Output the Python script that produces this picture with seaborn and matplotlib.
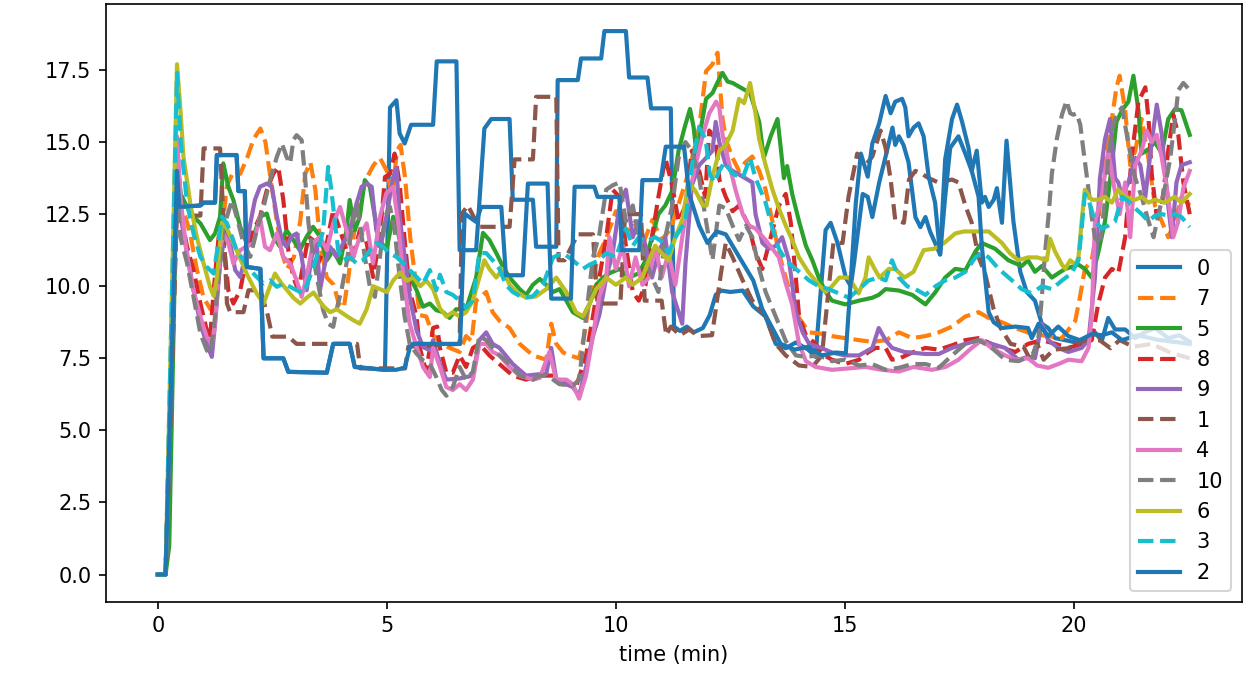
import matplotlib
matplotlib.use("Agg")
import matplotlib.pyplot as plt
import numpy as np
import pandas as pd
import seaborn as sns

# legend / drawing order of the runs
series_order = ["0", "7", "5", "8", "9", "1", "4", "10", "6", "3", "2"]

# --- run 0 (blue, solid) ---
t_0 = [0.0, 0.17, 0.42, 0.47, 0.93, 1.0, 1.25, 1.29, 1.72, 1.76,
       1.9, 1.94, 2.24, 2.31, 2.74, 2.85, 3.69, 3.83, 4.19, 4.3,
       4.96, 5.07, 5.21, 5.28, 5.39, 5.53, 6.01, 6.09, 6.52, 6.59,
       6.95, 7.13, 7.28, 7.68, 7.75, 8.19, 8.26, 8.70, 8.73, 9.17,
       9.24, 9.68, 9.75, 10.22, 10.29, 10.69, 10.77, 11.2, 11.27, 11.4,
       11.55, 11.7, 11.9, 12.05, 12.18, 12.3, 12.5, 12.77, 13.0, 13.27,
       13.49, 13.71, 13.93, 14.2, 14.36, 14.58, 14.69, 14.84, 15.02, 15.13,
       15.2, 15.39, 15.5, 15.6, 15.75, 15.89, 16.04, 16.1, 16.18, 16.28,
       16.39, 16.47, 16.54, 16.65, 16.76, 16.86, 16.97, 17.08, 17.19, 17.34,
       17.45, 17.56, 17.7, 17.77, 17.88, 17.99, 18.06, 18.14, 18.25, 18.32,
       18.43, 18.53, 18.68, 18.83, 18.97, 19.15, 19.3, 19.44, 19.59, 19.9,
       20.17, 20.46, 20.61, 20.75, 20.9, 21.12, 21.34, 21.55, 21.77, 22.06,
       22.3, 22.53]
v_0 = [0.0, 0.0, 14.0, 12.75, 12.8, 12.9, 12.9, 14.55, 14.55, 13.3,
       13.3, 10.67, 10.6, 7.5, 7.5, 7.03, 7.0, 8.0, 8.0, 7.2,
       7.1, 16.2, 16.45, 15.3, 14.95, 15.6, 15.6, 17.8, 17.8, 11.25,
       11.25, 15.47, 15.8, 15.8, 13.0, 13.0, 11.37, 11.37, 17.15, 17.15,
       17.9, 17.9, 18.85, 18.85, 17.24, 17.24, 16.17, 16.17, 8.6, 8.45,
       8.6, 8.4, 8.55, 9.0, 9.7, 9.85, 9.8, 9.85, 9.3, 8.95,
       8.0, 7.85, 8.05, 7.8, 7.55, 11.95, 12.2, 11.5, 10.3, 10.0,
       10.8, 13.2, 13.1, 12.4, 13.6, 14.5, 15.5, 14.9, 15.2, 14.9,
       14.3, 13.3, 12.4, 12.05, 12.4, 11.9, 11.5, 11.1, 14.4, 15.8,
       16.3, 15.7, 14.8, 14.0, 14.7, 12.9, 13.1, 12.75, 13.0, 13.4,
       12.2, 15.05, 12.25, 10.5, 9.8, 9.5, 8.7, 8.55, 8.2, 8.1,
       8.0, 8.4, 8.1, 8.9, 8.5, 8.5, 8.2, 8.4, 8.55, 8.2,
       8.3, 8.07]

# --- run 7 (orange, dashed) ---
t_7 = [0.0, 0.17, 0.42, 0.5, 0.71, 0.85, 1.0, 1.15, 1.25, 1.37,
       1.51, 1.66, 1.8, 1.95, 2.09, 2.24, 2.35, 2.46, 2.6, 2.71,
       2.82, 2.97, 3.11, 3.22, 3.33, 3.44, 3.55, 3.69, 3.84, 3.95,
       4.06, 4.16, 4.27, 4.42, 4.56, 4.71, 4.85, 5.0, 5.12, 5.22,
       5.3, 5.4, 5.51, 5.62, 5.72, 5.86, 6.01, 6.2, 6.37, 6.59,
       6.73, 6.85, 6.95, 7.17, 7.31, 7.46, 7.68, 7.9, 8.19, 8.48,
       8.59, 8.7, 8.85, 8.99, 9.2, 9.31, 9.5, 9.64, 9.8, 10.0,
       10.2, 10.4, 10.6, 10.8, 11.0, 11.2, 11.4, 11.6, 11.82, 11.97,
       12.11, 12.22, 12.33, 12.42, 12.55, 12.69, 12.83, 12.98, 13.13, 13.27,
       13.42, 13.56, 13.71, 13.85, 14.0, 14.22, 14.5, 14.72, 15.0, 15.31,
       15.6, 15.9, 16.18, 16.47, 16.76, 17.05, 17.34, 17.63, 17.92, 18.14,
       18.43, 18.72, 19.08, 19.44, 19.74, 20.03, 20.13, 20.24, 20.39, 20.53,
       20.68, 20.83, 20.93, 21.0, 21.12, 21.23, 21.34, 21.48, 21.63, 21.77,
       21.92, 22.06, 22.21, 22.35, 22.53]
v_7 = [0.0, 0.0, 14.5, 13.0, 11.8, 10.6, 9.6, 9.2, 9.3, 11.4,
       13.5, 14.0, 13.9, 14.45, 15.1, 15.47, 15.0, 13.75, 12.25, 11.15,
       10.6, 11.0, 12.25, 13.9, 14.3, 13.35, 11.4, 10.3, 10.05, 9.4,
       9.25, 10.3, 11.7, 13.1, 13.75, 14.2, 14.45, 14.0, 13.1, 14.7,
       14.9, 13.75, 11.7, 10.3, 9.0, 8.95, 8.3, 8.0, 7.86, 7.72,
       8.27, 8.1, 9.5, 9.8, 9.1, 8.8, 8.55, 8.0, 7.6, 7.45,
       8.7, 8.0, 7.7, 7.6, 7.5, 8.27, 10.3, 11.15, 11.7, 12.6,
       11.8, 12.2, 11.5, 12.3, 11.6, 12.0, 13.0, 14.0, 15.5, 17.46,
       17.7, 18.1, 15.8, 15.0, 14.45, 14.0, 14.3, 14.5, 14.0, 13.35,
       12.25, 11.15, 10.3, 9.5, 8.9, 8.4, 8.35, 8.27, 8.2, 8.13,
       8.07, 8.13, 8.4, 8.2, 8.27, 8.4, 8.6, 8.95, 9.1, 8.9,
       8.75, 8.55, 8.35, 8.27, 8.2, 8.8, 9.6, 10.6, 10.9, 12.25,
       14.45, 15.8, 16.9, 17.3, 16.1, 14.2, 14.7, 15.8, 14.4, 12.8,
       12.25, 11.7, 12.25, 13.1, 12.8]

# --- run 5 (green, solid) ---
t_5 = [0.0, 0.17, 0.25, 0.42, 0.5, 0.71, 0.93, 1.14, 1.25, 1.36,
       1.43, 1.54, 1.65, 1.8, 1.94, 2.09, 2.23, 2.38, 2.52, 2.67,
       2.81, 2.96, 3.1, 3.25, 3.39, 3.54, 3.69, 3.83, 3.98, 4.12,
       4.19, 4.3, 4.41, 4.52, 4.63, 4.74, 4.85, 4.99, 5.14, 5.25,
       5.36, 5.5, 5.65, 5.79, 5.94, 6.08, 6.23, 6.37, 6.51, 6.73,
       6.95, 7.1, 7.24, 7.39, 7.53, 7.68, 7.9, 8.04, 8.19, 8.34,
       8.48, 8.63, 8.77, 8.92, 9.06, 9.28, 9.43, 9.57, 9.72, 9.86,
       10.08, 10.29, 10.5, 10.65, 10.79, 10.93, 11.08, 11.23, 11.37, 11.5,
       11.62, 11.7, 11.77, 11.87, 11.97, 12.11, 12.26, 12.33, 12.44, 12.55,
       12.77, 12.93, 13.05, 13.13, 13.23, 13.38, 13.53, 13.6, 13.67, 13.74,
       13.85, 14.0, 14.15, 14.29, 14.43, 14.58, 14.72, 15.01, 15.31, 15.6,
       15.74, 15.89, 16.18, 16.47, 16.76, 16.98, 17.19, 17.41, 17.63, 17.85,
       17.99, 18.28, 18.57, 18.86, 19.0, 19.15, 19.3, 19.52, 19.66, 19.81,
       20.1, 20.24, 20.39, 20.53, 20.68, 20.83, 20.93, 21.05, 21.19, 21.3,
       21.41, 21.48, 21.63, 21.77, 21.92, 22.06, 22.21, 22.35, 22.53]
v_5 = [0.0, 0.0, 1.0, 14.4, 13.2, 12.52, 12.18, 11.6, 11.83, 12.41,
       14.26, 13.45, 12.99, 12.06, 11.5, 11.72, 12.41, 12.52, 11.72, 11.37,
       11.94, 11.6, 11.25, 11.72, 12.06, 11.72, 10.9, 11.25, 10.79, 11.94,
       12.99, 11.94, 12.41, 13.68, 13.45, 12.41, 11.6, 11.25, 12.41, 11.83,
       11.02, 10.32, 9.86, 9.29, 9.4, 9.17, 9.1, 8.9, 9.2, 9.2,
       10.3, 11.85, 11.6, 11.15, 10.7, 10.3, 9.9, 9.7, 10.05, 10.25,
       10.05, 9.8, 9.9, 9.5, 9.1, 8.9, 9.4, 10.05, 10.3, 10.45,
       10.6, 10.3, 10.45, 10.9, 11.7, 12.5, 12.8, 13.3, 14.7, 15.5,
       16.15, 15.5, 14.45, 15.6, 16.5, 16.7, 17.2, 17.4, 17.1, 17.05,
       16.85, 16.7, 16.1, 15.7, 14.45, 15.2, 15.8, 14.8, 13.75, 14.17,
       13.2, 12.25, 11.4, 10.9, 10.3, 9.8, 9.5, 9.37, 9.5, 9.6,
       9.7, 9.9, 9.85, 9.7, 9.37, 9.8, 10.3, 10.6, 10.55, 11.2,
       11.5, 11.3, 10.9, 10.7, 10.9, 10.5, 10.7, 10.3, 10.45, 10.6,
       10.75, 10.6, 10.3, 11.15, 12.25, 14.2, 15.7, 16.1, 16.4, 17.3,
       16.1, 14.6, 14.75, 15.0, 14.6, 15.8, 16.15, 16.1, 15.25]

# --- run 8 (red, dashed) ---
t_8 = [0.0, 0.17, 0.42, 0.5, 0.64, 0.78, 0.93, 1.07, 1.14, 1.22,
       1.33, 1.4, 1.47, 1.54, 1.65, 1.8, 1.94, 2.09, 2.23, 2.38,
       2.52, 2.63, 2.74, 2.85, 2.96, 3.07, 3.18, 3.29, 3.39, 3.5,
       3.69, 3.83, 3.98, 4.12, 4.27, 4.41, 4.56, 4.7, 4.85, 4.96,
       5.07, 5.17, 5.28, 5.39, 5.5, 5.65, 5.72, 5.86, 6.01, 6.1,
       6.16, 6.3, 6.44, 6.59, 6.73, 6.88, 7.02, 7.24, 7.46, 7.75,
       8.04, 8.34, 8.63, 8.92, 9.13, 9.35, 9.5, 9.64, 9.79, 9.93,
       10.08, 10.22, 10.37, 10.5, 10.65, 10.79, 10.93, 11.08, 11.23, 11.37,
       11.52, 11.66, 11.82, 11.95, 12.04, 12.18, 12.26, 12.4, 12.55, 12.69,
       12.9, 13.05, 13.2, 13.35, 13.56, 13.71, 13.82, 13.93, 14.0, 14.15,
       14.36, 14.55, 14.72, 15.0, 15.31, 15.5, 15.67, 15.89, 16.03, 16.2,
       16.47, 16.76, 17.05, 17.34, 17.63, 17.92, 18.2, 18.43, 18.72, 19.0,
       19.3, 19.6, 19.88, 20.17, 20.39, 20.53, 20.68, 20.83, 20.97, 21.12,
       21.26, 21.41, 21.56, 21.63, 21.7, 21.81, 21.92, 22.06, 22.17, 22.28,
       22.39, 22.53]
v_8 = [0.0, 0.0, 13.0, 12.5, 11.37, 10.56, 9.4, 8.47, 8.13, 9.86,
       11.72, 11.94, 11.02, 9.86, 9.4, 9.86, 11.02, 11.94, 12.4, 13.33,
       13.9, 14.14, 13.0, 11.25, 10.3, 9.86, 10.79, 11.72, 11.6, 10.79,
       11.5, 12.64, 11.94, 11.25, 11.02, 11.94, 11.5, 10.32, 11.72, 13.79,
       13.9, 14.6, 13.56, 11.6, 9.86, 8.94, 7.86, 7.04, 8.55, 8.6,
       7.86, 7.0, 7.0, 7.6, 7.2, 7.86, 8.0, 7.6, 7.3, 6.9,
       6.76, 6.9, 6.9, 6.6, 6.5, 7.6, 8.95, 10.3, 11.7, 13.35,
       13.1, 11.4, 9.8, 9.5, 10.05, 11.7, 13.1, 14.45, 13.5, 12.25,
       12.8, 14.7, 14.0, 13.1, 15.4, 15.1, 13.7, 13.1, 12.6, 12.8,
       12.1, 11.15, 10.6, 11.5, 12.8, 13.2, 12.2, 10.3, 8.95, 8.3,
       8.0, 7.6, 7.45, 7.3, 7.45, 7.7, 7.86, 7.86, 7.45, 7.5,
       7.7, 7.86, 7.8, 7.95, 8.13, 8.2, 8.0, 7.86, 7.72, 8.0,
       8.13, 8.0, 7.86, 8.0, 8.13, 9.37, 10.3, 10.6, 10.45, 11.7,
       14.45, 16.4, 16.9, 15.8, 13.9, 12.4, 12.8, 14.7, 15.95, 15.25,
       13.6, 12.5]

# --- run 9 (purple, solid) ---
t_9 = [0.0, 0.17, 0.42, 0.49, 0.64, 0.78, 0.93, 1.07, 1.18, 1.25,
       1.36, 1.47, 1.58, 1.69, 1.8, 1.91, 2.02, 2.12, 2.23, 2.38,
       2.49, 2.6, 2.71, 2.81, 2.92, 3.03, 3.14, 3.25, 3.36, 3.47,
       3.54, 3.65, 3.76, 3.9, 4.05, 4.19, 4.34, 4.45, 4.56, 4.67,
       4.77, 4.88, 4.99, 5.14, 5.21, 5.28, 5.39, 5.5, 5.65, 5.79,
       5.94, 6.01, 6.16, 6.3, 6.59, 6.88, 7.02, 7.17, 7.31, 7.46,
       7.75, 8.04, 8.34, 8.48, 8.59, 8.7, 8.92, 9.06, 9.2, 9.35,
       9.5, 9.64, 9.79, 9.93, 10.08, 10.22, 10.37, 10.5, 10.65, 10.79,
       10.93, 11.08, 11.23, 11.37, 11.45, 11.52, 11.66, 11.82, 11.97, 12.11,
       12.18, 12.26, 12.4, 12.55, 12.77, 12.98, 13.05, 13.2, 13.34, 13.49,
       13.63, 13.78, 13.93, 14.08, 14.22, 14.5, 14.72, 15.0, 15.31, 15.6,
       15.74, 15.89, 16.03, 16.3, 16.76, 17.05, 17.34, 17.63, 17.92, 18.2,
       18.5, 18.79, 19.0, 19.15, 19.3, 19.44, 19.66, 19.88, 20.17, 20.32,
       20.46, 20.57, 20.68, 20.79, 20.9, 20.97, 21.05, 21.19, 21.34, 21.45,
       21.56, 21.7, 21.81, 21.92, 22.06, 22.14, 22.24, 22.35, 22.53]
v_9 = [0.0, 0.0, 14.2, 12.5, 11.14, 9.86, 8.7, 8.0, 7.55, 8.7,
       10.79, 11.83, 11.5, 10.56, 10.32, 11.02, 12.18, 12.99, 13.45, 13.56,
       13.45, 12.41, 11.6, 11.37, 11.72, 11.83, 11.02, 9.86, 11.02, 11.5,
       9.86, 10.79, 11.37, 11.02, 11.5, 11.94, 12.87, 13.45, 13.56, 13.45,
       11.94, 11.5, 12.41, 13.79, 14.1, 12.41, 11.02, 9.63, 8.47, 7.89,
       7.78, 8.13, 7.3, 6.76, 6.8, 6.9, 8.13, 8.4, 8.0, 7.86,
       7.3, 6.9, 6.95, 6.95, 7.86, 6.76, 6.6, 6.5, 6.2, 7.2,
       8.27, 9.0, 10.3, 11.15, 12.8, 13.35, 11.7, 12.25, 11.4, 10.3,
       11.15, 11.7, 9.8, 9.1, 8.7, 10.8, 13.5, 14.2, 14.45, 14.7,
       15.7, 15.0, 14.2, 14.0, 13.8, 13.6, 12.5, 11.5, 11.3, 11.4,
       11.7, 10.9, 9.1, 8.4, 8.0, 7.85, 7.7, 7.6, 7.6, 7.86,
       8.55, 8.13, 7.86, 7.72, 7.65, 7.65, 7.86, 8.0, 8.13, 8.0,
       7.86, 7.45, 7.55, 7.5, 8.7, 8.13, 7.86, 7.72, 7.86, 8.13,
       10.3, 13.75, 15.1, 15.8, 13.75, 13.6, 13.1, 13.6, 14.45, 14.2,
       13.1, 15.0, 16.3, 15.25, 12.8, 11.7, 13.6, 14.2, 14.3]

# --- run 1 (brown, dashed) ---
t_1 = [0.0, 0.17, 0.42, 0.46, 0.93, 1.0, 1.36, 1.43, 1.51, 1.58,
       1.87, 1.98, 2.24, 2.4, 2.5, 2.85, 3.03, 4.35, 4.42, 5.4,
       5.47, 6.59, 6.64, 6.77, 6.9, 7.02, 7.68, 7.79, 8.19, 8.26,
       8.7, 8.75, 8.88, 9.17, 9.5, 9.6, 10.1, 10.2, 10.55, 10.63,
       11.0, 11.1, 11.2, 11.4, 11.6, 11.8, 12.1, 12.3, 12.4, 12.55,
       12.77, 12.98, 13.27, 13.49, 13.71, 14.0, 14.29, 14.5, 14.62, 14.75,
       14.95, 15.08, 15.27, 15.45, 15.6, 15.78, 15.89, 16.0, 16.1, 16.29,
       16.4, 16.54, 16.68, 16.83, 17.04, 17.34, 17.48, 17.63, 17.77, 17.92,
       18.06, 18.25, 18.4, 18.62, 18.9, 19.05, 19.2, 19.34, 19.56, 19.9,
       20.05, 20.27, 20.56, 20.8, 21.0, 21.3, 21.7, 22.1, 22.53]
v_1 = [0.0, 0.0, 12.8, 12.45, 12.45, 14.78, 14.78, 12.45, 9.4, 9.1,
       9.1, 9.86, 9.86, 9.0, 8.25, 8.25, 8.0, 8.0, 7.15, 7.15,
       7.9, 8.0, 12.52, 12.8, 12.4, 12.06, 12.06, 14.4, 14.4, 16.57,
       16.57, 10.9, 10.9, 11.8, 11.8, 9.4, 9.4, 12.5, 12.5, 9.5,
       9.5, 8.3, 8.6, 8.3, 8.5, 8.27, 8.3, 10.5, 11.5, 11.0,
       10.2, 9.5, 8.95, 8.0, 7.6, 7.25, 7.2, 7.6, 9.5, 11.5,
       11.5, 13.1, 14.6, 14.2, 14.5, 15.4, 14.8, 13.7, 12.3, 12.2,
       13.7, 14.0, 13.9, 13.75, 13.6, 13.7, 13.6, 12.8, 12.2, 11.0,
       10.45, 9.2, 8.55, 8.0, 7.9, 7.45, 8.0, 7.45, 7.8, 7.85,
       8.0, 8.13, 8.13, 7.85, 8.13, 7.9, 8.0, 7.7, 7.5]

# --- run 4 (pink, solid) ---
t_4 = [0.0, 0.17, 0.42, 0.5, 0.64, 0.78, 0.93, 1.07, 1.18, 1.25,
       1.36, 1.43, 1.54, 1.65, 1.8, 1.94, 2.09, 2.23, 2.34, 2.45,
       2.6, 2.74, 2.89, 3.03, 3.14, 3.25, 3.39, 3.54, 3.69, 3.83,
       3.98, 4.12, 4.27, 4.41, 4.56, 4.7, 4.85, 4.99, 5.14, 5.25,
       5.36, 5.5, 5.65, 5.79, 5.94, 6.01, 6.16, 6.3, 6.44, 6.59,
       6.73, 6.88, 7.02, 7.17, 7.31, 7.46, 7.68, 7.9, 8.19, 8.34,
       8.55, 8.7, 8.92, 9.06, 9.2, 9.35, 9.5, 9.64, 9.79, 9.86,
       10.0, 10.15, 10.29, 10.43, 10.58, 10.72, 10.86, 11.0, 11.15, 11.3,
       11.45, 11.59, 11.74, 11.9, 12.04, 12.19, 12.26, 12.33, 12.48, 12.62,
       12.77, 12.91, 13.05, 13.27, 13.42, 13.56, 13.71, 13.85, 14.0, 14.15,
       14.36, 14.72, 15.09, 15.45, 15.81, 16.18, 16.5, 16.9, 17.2, 17.48,
       17.77, 17.99, 18.2, 18.5, 18.72, 19.0, 19.2, 19.44, 19.66, 19.88,
       20.17, 20.32, 20.39, 20.46, 20.61, 20.75, 20.86, 21.0, 21.12, 21.23,
       21.34, 21.48, 21.59, 21.7, 21.81, 21.92, 22.06, 22.17, 22.28, 22.39,
       22.53]
v_4 = [0.0, 0.0, 15.2, 13.0, 11.02, 9.86, 8.94, 8.24, 8.0, 8.7,
       11.25, 11.83, 11.5, 10.79, 11.25, 11.37, 11.5, 12.41, 11.37, 11.25,
       11.83, 11.02, 10.79, 10.2, 9.63, 10.32, 11.5, 11.72, 11.25, 12.18,
       12.75, 11.94, 11.02, 11.72, 12.18, 10.79, 12.41, 13.22, 13.45, 12.18,
       10.32, 8.7, 7.89, 7.2, 6.85, 7.86, 7.2, 6.5, 6.4, 6.6,
       6.4, 6.76, 8.0, 8.0, 7.72, 7.6, 7.2, 6.9, 6.76, 6.82,
       7.72, 6.76, 6.76, 6.6, 6.1, 6.9, 8.27, 9.65, 10.3, 11.7,
       10.6, 11.4, 10.0, 11.0, 10.05, 10.3, 11.4, 10.3, 11.15, 10.05,
       11.7, 13.1, 14.2, 15.25, 16.0, 16.4, 16.2, 15.25, 14.2, 13.3,
       12.5, 12.1, 12.0, 11.6, 11.3, 11.0, 10.1, 9.37, 8.0, 7.4,
       7.2, 7.1, 7.15, 7.2, 7.1, 7.04, 7.2, 7.1, 7.2, 7.45,
       7.86, 8.13, 7.86, 7.6, 7.45, 7.5, 7.25, 7.17, 7.3, 7.45,
       7.4, 7.86, 8.95, 12.25, 13.1, 14.7, 13.6, 12.5, 13.6, 11.7,
       14.2, 14.7, 15.4, 15.0, 15.25, 14.45, 13.1, 11.7, 12.25, 13.4,
       14.0]

# --- run 10 (grey, dashed) ---
t_10 = [0.0, 0.17, 0.42, 0.49, 0.64, 0.78, 0.93, 1.07, 1.14, 1.22,
        1.33, 1.43, 1.51, 1.62, 1.72, 1.87, 2.02, 2.16, 2.31, 2.45,
        2.6, 2.71, 2.81, 2.89, 2.96, 3.03, 3.14, 3.21, 3.29, 3.39,
        3.5, 3.61, 3.72, 3.83, 3.9, 4.01, 4.12, 4.23, 4.34, 4.41,
        4.52, 4.63, 4.74, 4.85, 4.96, 5.07, 5.17, 5.28, 5.39, 5.5,
        5.65, 5.79, 5.94, 6.08, 6.2, 6.3, 6.44, 6.59, 6.73, 6.88,
        7.02, 7.17, 7.31, 7.46, 7.68, 7.9, 8.19, 8.34, 8.48, 8.63,
        8.77, 9.06, 9.2, 9.35, 9.5, 9.64, 9.79, 9.93, 10.08, 10.22,
        10.37, 10.5, 10.65, 10.79, 10.93, 11.08, 11.23, 11.37, 11.52, 11.66,
        11.82, 11.97, 12.11, 12.26, 12.4, 12.55, 12.69, 12.84, 12.98, 13.13,
        13.27, 13.49, 13.71, 13.93, 14.15, 14.43, 14.72, 15.01, 15.31, 15.6,
        15.89, 16.18, 16.47, 16.76, 17.05, 17.34, 17.63, 17.92, 18.21, 18.5,
        18.79, 18.94, 19.1, 19.23, 19.3, 19.37, 19.45, 19.52, 19.63, 19.74,
        19.84, 19.92, 19.99, 20.06, 20.14, 20.21, 20.32, 20.39, 20.46, 20.57,
        20.68, 20.75, 20.83, 20.93, 21.05, 21.19, 21.34, 21.48, 21.63, 21.74,
        21.85, 21.99, 22.1, 22.21, 22.28, 22.39, 22.53]
v_10 = [0.0, 0.0, 13.5, 11.72, 10.79, 9.63, 8.36, 7.78, 7.66, 8.47,
        10.32, 11.94, 12.41, 12.99, 12.41, 11.5, 11.02, 11.94, 12.75, 13.68,
        14.49, 14.95, 14.49, 14.26, 15.07, 15.24, 15.07, 13.9, 12.18, 11.02,
        10.09, 9.17, 8.7, 8.59, 9.17, 9.86, 10.79, 11.94, 12.87, 12.18,
        11.02, 9.98, 9.63, 11.02, 12.41, 12.75, 11.94, 10.32, 8.94, 8.0,
        7.66, 7.43, 7.31, 6.85, 6.4, 6.2, 6.5, 7.2, 6.76, 7.04,
        8.27, 8.13, 7.86, 7.6, 7.3, 6.9, 6.76, 6.9, 6.9, 6.76,
        6.6, 6.55, 6.76, 8.95, 11.0, 11.8, 13.35, 13.5, 13.6, 12.25,
        12.8, 11.7, 10.9, 10.3, 9.8, 11.7, 12.8, 14.45, 15.0, 14.7,
        13.75, 12.25, 10.9, 12.8, 12.7, 12.1, 11.6, 12.1, 11.7, 10.6,
        9.8, 8.95, 8.1, 7.6, 7.55, 7.6, 7.4, 7.45, 7.25, 7.3,
        7.1, 7.17, 7.3, 7.3, 7.17, 7.6, 8.0, 8.13, 7.86, 7.45,
        7.4, 7.5, 7.55, 8.27, 9.6, 11.15, 12.5, 13.9, 15.13, 15.95,
        16.43, 16.0, 15.95, 16.0, 15.6, 14.7, 13.35, 12.4, 11.7, 11.45,
        13.0, 14.45, 15.4, 15.95, 16.2, 14.95, 13.75, 13.1, 12.25, 11.7,
        12.5, 13.45, 14.4, 15.8, 16.8, 17.05, 16.8]

# --- run 6 (olive, solid) ---
t_6 = [0.0, 0.17, 0.42, 0.5, 0.56, 0.71, 0.85, 1.0, 1.14, 1.22,
       1.29, 1.4, 1.51, 1.72, 1.95, 2.16, 2.31, 2.45, 2.56, 2.7,
       2.96, 3.11, 3.25, 3.4, 3.62, 3.76, 3.91, 4.13, 4.27, 4.41,
       4.56, 4.7, 4.85, 5.0, 5.14, 5.29, 5.44, 5.58, 5.73, 5.86,
       6.01, 6.16, 6.3, 6.44, 6.59, 6.73, 6.88, 7.02, 7.13, 7.24,
       7.39, 7.53, 7.68, 7.83, 8.04, 8.26, 8.48, 8.7, 8.92, 9.13,
       9.28, 9.43, 9.57, 9.79, 10.0, 10.22, 10.37, 10.58, 10.72, 10.86,
       11.0, 11.15, 11.3, 11.45, 11.59, 11.74, 11.9, 11.98, 12.11, 12.26,
       12.4, 12.55, 12.69, 12.8, 12.93, 13.05, 13.13, 13.27, 13.42, 13.56,
       13.71, 13.85, 14.0, 14.2, 14.43, 14.58, 14.72, 14.88, 15.09, 15.3,
       15.45, 15.52, 15.65, 15.76, 15.96, 16.1, 16.3, 16.5, 16.72, 16.95,
       17.17, 17.41, 17.6, 17.85, 18.14, 18.43, 18.6, 18.79, 19.0, 19.2,
       19.41, 19.48, 19.59, 19.74, 19.81, 19.92, 20.03, 20.1, 20.17, 20.24,
       20.39, 20.53, 20.68, 20.83, 20.97, 21.12, 21.34, 21.48, 21.63, 21.77,
       21.99, 22.2, 22.35, 22.53]
v_6 = [0.0, 0.0, 17.7, 16.0, 14.5, 12.87, 11.72, 10.79, 9.98, 9.66,
       10.3, 12.2, 12.0, 11.25, 10.4, 9.75, 9.4, 10.0, 10.44, 10.1,
       9.6, 9.4, 9.6, 9.78, 9.3, 9.1, 9.2, 8.96, 8.82, 8.7,
       9.2, 10.0, 9.9, 9.8, 10.2, 10.47, 10.19, 10.3, 10.0, 10.2,
       9.9, 9.23, 8.95, 9.1, 8.95, 9.1, 9.5, 10.3, 10.9, 10.6,
       10.3, 10.6, 10.05, 9.8, 9.6, 9.65, 9.9, 10.3, 9.8, 9.1,
       8.95, 9.4, 9.9, 10.3, 10.05, 10.3, 10.05, 10.3, 10.9, 11.4,
       11.15, 10.9, 11.7, 12.3, 13.6, 13.3, 12.8, 12.8, 13.8, 14.7,
       14.9, 15.4, 16.5, 16.35, 17.05, 16.0, 15.1, 14.2, 13.35, 12.7,
       12.1, 11.6, 11.0, 10.5, 10.05, 9.8, 10.0, 10.3, 10.3, 9.75,
       10.3, 11.0, 10.6, 10.3, 10.6, 10.6, 10.3, 10.5, 11.25, 11.3,
       11.5, 11.83, 11.9, 11.9, 11.9, 11.5, 11.15, 10.9, 11.0, 11.0,
       10.9, 11.65, 11.2, 10.75, 10.6, 10.9, 10.75, 11.0, 12.25, 13.35,
       13.0, 13.0, 13.1, 12.9, 13.35, 13.1, 13.0, 13.1, 12.9, 13.0,
       12.9, 13.1, 12.9, 13.2]

# --- run 3 (cyan, dashed) ---
t_3 = [0.0, 0.17, 0.42, 0.5, 0.64, 0.78, 0.93, 1.07, 1.22, 1.33,
       1.4, 1.51, 1.62, 1.72, 1.87, 2.02, 2.16, 2.31, 2.45, 2.6,
       2.74, 2.89, 3.03, 3.18, 3.32, 3.47, 3.61, 3.72, 3.79, 3.87,
       3.94, 4.05, 4.19, 4.34, 4.48, 4.63, 4.77, 4.92, 5.07, 5.21,
       5.36, 5.5, 5.65, 5.79, 5.94, 6.08, 6.16, 6.3, 6.44, 6.59,
       6.73, 6.88, 7.02, 7.17, 7.31, 7.46, 7.6, 7.75, 7.97, 8.19,
       8.41, 8.63, 8.85, 9.06, 9.28, 9.43, 9.64, 9.79, 10.0, 10.22,
       10.37, 10.5, 10.65, 10.86, 11.0, 11.15, 11.3, 11.52, 11.66, 11.82,
       11.96, 12.05, 12.15, 12.26, 12.37, 12.55, 12.77, 12.93, 13.05, 13.27,
       13.42, 13.56, 13.71, 14.0, 14.22, 14.43, 14.65, 14.87, 15.09, 15.31,
       15.52, 15.74, 15.89, 16.03, 16.18, 16.36, 16.54, 16.76, 16.98, 17.19,
       17.41, 17.63, 17.85, 17.99, 18.14, 18.36, 18.65, 18.86, 19.08, 19.3,
       19.52, 19.74, 19.95, 20.1, 20.17, 20.24, 20.32, 20.46, 20.61, 20.75,
       20.9, 21.05, 21.19, 21.34, 21.48, 21.63, 21.77, 21.92, 22.06, 22.21,
       22.35, 22.53]
v_3 = [0.0, 0.0, 17.4, 15.0, 12.87, 11.83, 11.02, 10.67, 10.44, 11.6,
       12.41, 12.18, 11.72, 11.25, 10.9, 10.56, 10.32, 10.09, 10.2, 9.98,
       10.09, 9.98, 9.86, 9.75, 10.32, 11.02, 11.94, 14.14, 13.33, 12.18,
       11.25, 10.9, 11.02, 10.79, 10.9, 11.25, 11.5, 11.37, 11.14, 11.02,
       10.79, 10.56, 10.32, 10.09, 10.56, 9.86, 10.4, 9.8, 9.7, 9.5,
       9.25, 9.5, 11.15, 11.15, 10.9, 10.6, 10.05, 9.8, 9.6, 9.65,
       10.05, 11.0, 11.15, 10.9, 10.6, 10.75, 10.9, 11.15, 11.0, 12.0,
       11.4, 11.7, 11.55, 11.7, 11.55, 11.15, 11.7, 12.25, 14.2, 15.5,
       15.1, 13.9, 13.6, 14.0, 14.3, 13.9, 13.75, 14.45, 13.75, 12.9,
       12.0, 11.3, 10.9, 10.5, 10.2, 10.0, 9.9, 9.75, 9.6, 9.9,
       10.2, 10.3, 10.2, 10.9, 10.3, 10.0, 9.9, 9.7, 10.0, 10.2,
       10.3, 10.5, 11.0, 11.15, 11.0, 10.6, 10.2, 9.9, 9.75, 10.0,
       9.9, 10.2, 10.45, 10.9, 12.0, 13.2, 13.0, 12.25, 12.0, 12.1,
       12.25, 13.1, 12.95, 12.7, 12.5, 12.25, 12.45, 12.5, 12.45, 12.5,
       12.4, 12.05]

# --- run 2 (blue, solid) ---
t_2 = [0.0, 0.17, 0.42, 0.47, 0.93, 1.0, 1.25, 1.29, 1.72, 1.76,
       1.9, 1.94, 2.24, 2.31, 2.74, 2.85, 3.69, 3.83, 4.19, 4.3,
       4.96, 5.2, 5.39, 5.5, 5.57, 6.6, 6.7, 6.8, 6.95, 7.06,
       7.5, 7.6, 7.97, 8.08, 8.51, 8.59, 9.02, 9.1, 9.53, 9.6,
       10.08, 10.13, 10.51, 10.58, 10.98, 11.09, 11.49, 11.6, 11.82, 12.0,
       12.2, 12.4, 12.7, 13.0, 13.2, 13.4, 13.6, 13.9, 14.2, 14.5,
       14.8, 15.02, 15.13, 15.24, 15.35, 15.5, 15.6, 15.75, 15.89, 16.0,
       16.1, 16.25, 16.32, 16.39, 16.5, 16.61, 16.72, 16.83, 16.97, 17.08,
       17.19, 17.3, 17.48, 17.63, 17.77, 17.92, 17.99, 18.14, 18.25, 18.43,
       18.72, 19.0, 19.08, 19.23, 19.44, 19.66, 19.88, 20.13, 20.39, 20.61,
       20.83, 21.05, 21.4, 21.8, 22.53]
v_2 = [0.0, 0.0, 14.0, 12.75, 12.8, 12.9, 12.9, 14.55, 14.55, 13.3,
       13.3, 10.67, 10.6, 7.5, 7.5, 7.03, 7.0, 8.0, 8.0, 7.2,
       7.1, 7.1, 7.17, 7.86, 8.0, 8.0, 12.52, 12.4, 12.23, 12.75,
       12.75, 10.38, 10.38, 13.56, 13.56, 9.57, 9.57, 13.45, 13.45, 13.1,
       13.1, 11.25, 11.25, 13.68, 13.68, 14.84, 14.84, 13.2, 12.1, 11.5,
       11.9, 11.8, 11.0, 10.2, 9.2, 8.6, 8.0, 7.8, 7.9, 7.6,
       7.7, 7.67, 10.2, 12.9, 14.6, 13.8, 14.95, 15.65, 16.6, 16.0,
       16.4, 16.5, 16.2, 15.2, 15.5, 15.65, 15.2, 13.8, 12.9, 11.1,
       13.1, 14.8, 15.2, 14.6, 14.0, 13.1, 11.4, 9.1, 8.75, 8.55,
       8.6, 8.55, 8.2, 8.7, 8.27, 8.6, 8.27, 8.13, 8.34, 8.3,
       8.4, 8.13, 8.3, 8.15, 8.0]

runs = {
    "0": (t_0, v_0), "7": (t_7, v_7), "5": (t_5, v_5), "8": (t_8, v_8),
    "9": (t_9, v_9), "1": (t_1, v_1), "4": (t_4, v_4), "10": (t_10, v_10),
    "6": (t_6, v_6), "3": (t_3, v_3), "2": (t_2, v_2),
}

frames = []
for name in series_order:
    t, v = runs[name]
    assert len(t) == len(v), (name, len(t), len(v))
    frames.append(pd.DataFrame({"time (min)": t, "value": v, "run": name}))
df = pd.concat(frames, ignore_index=True)

tab10 = sns.color_palette("tab10", 10)
palette = {name: tab10[i % 10] for i, name in enumerate(series_order)}
dashes = {name: "" if i % 2 == 0 else (3.7, 1.6) for i, name in enumerate(series_order)}

fig, ax = plt.subplots(figsize=(1243 / 150, 687 / 150), dpi=150)
fig.subplots_adjust(left=0.0853, right=0.9988, bottom=0.1243, top=0.9942)

sns.lineplot(
    data=df, x="time (min)", y="value", hue="run", style="run",
    hue_order=series_order, style_order=series_order,
    palette=palette, dashes=dashes, estimator=None, errorbar=None,
    sort=False, linewidth=2.0, ax=ax,
)

ax.set_ylabel("")
ax.set_xlim(-1.13, 23.66)
ax.set_ylim(-0.94, 19.79)
ax.set_xticks([0, 5, 10, 15, 20])
ax.set_yticks(np.arange(0, 17.6, 2.5))
sns.move_legend(ax, "lower right", title=None)
for handle in ax.get_legend().get_lines():
    handle.set_linewidth(2.0)

fig.savefig("out.png", dpi=150)
